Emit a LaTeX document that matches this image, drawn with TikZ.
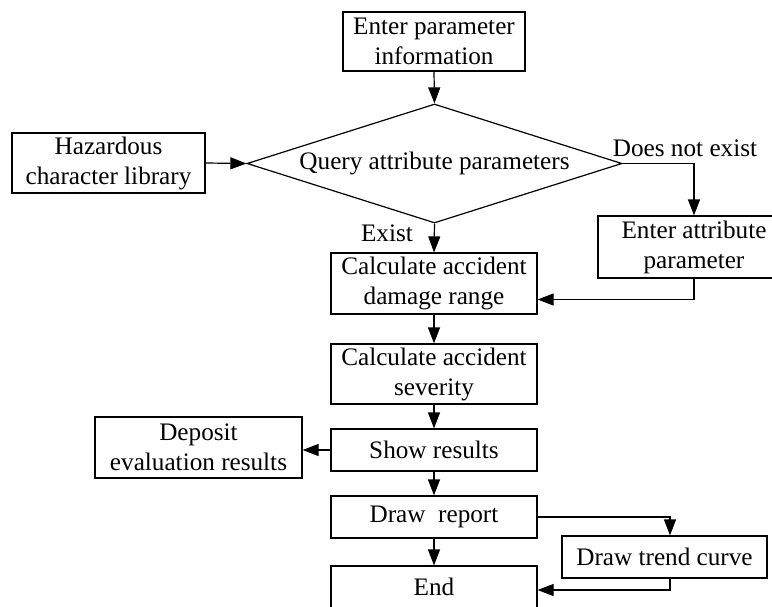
\documentclass[tikz,border=0pt]{standalone}
\usepackage{fontspec}
\setmainfont{Liberation Serif}
\usetikzlibrary{arrows.meta,shapes.geometric}

\begin{document}
\begin{tikzpicture}[x=0.5pt,y=-0.5pt,
	txt/.style={font=\fontsize{12.6}{15}\selectfont},
	box/.style={txt,draw,line width=0.6pt,align=center,inner sep=1pt},
	query/.style={txt,draw,diamond,aspect=3.15,line width=0.6pt,inner sep=0pt,minimum width=187.5pt,minimum height=59.5pt},
	flow/.style={line width=0.6pt,-{Triangle[length=8pt,width=6pt]}}]
	\clip (0,0) rectangle (772,606);
	% Input and query
	\node[box,minimum width=91pt,minimum height=29.5pt] (enter) at (434,41.5) {Enter parameter\\information};
	\node[query] (query) at (434.5,163.5) {Query attribute parameters};
	\node[box,minimum width=96.5pt,minimum height=30pt] (hazard) at (108.5,163) {Hazardous\\character library};
	\node[box,minimum width=96pt,minimum height=31pt] (attr) at (694,247) {Enter attribute\\parameter};
	\node[txt] (notexist) at (685,148) {Does not exist};
	\node[txt] (exist) at (387,233) {Exist};
	% Main column
	\node[box,minimum width=103pt,minimum height=30.5pt] (damage) at (434,283.5) {Calculate accident\\damage range};
	\node[box,minimum width=103pt,minimum height=30pt] (severity) at (434,374) {Calculate accident\\severity};
	\node[box,minimum width=103pt,minimum height=21pt] (show) at (434,450) {Show results};
	\node[box,minimum width=103.5pt,minimum height=30.5pt] (deposit) at (198.5,447.5) {Deposit\\evaluation results};
	\node[box,minimum width=103pt,minimum height=21pt] (report) at (434,517) {Draw\ \ report};
	\node[box,minimum width=103pt,minimum height=21pt] (end) at (434,587) {End};
	\node[box,minimum width=102.5pt,minimum height=21pt] (trend) at (664.5,557) {Draw trend curve};
	% Connectors
	\draw[flow] (enter.south) -- (query.north);
	\draw[flow] (hazard.east) -- (query.west);
	\draw[flow] (query.east) -| (attr.north);
	\draw[flow] (query.south) -- (damage.north);
	\draw[flow] (attr.south) |- ([yshift=-8pt]damage.east);
	\draw[flow] (damage.south) -- (severity.north);
	\draw[flow] (severity.south) -- (show.north);
	\draw[flow] (show.west) -- (show.west -| deposit.east);
	\draw[flow] (show.south) -- (report.north);
	\draw[flow] (report.south) -- (end.north);
	\draw[flow] (report.east) -| ([xshift=2.75pt]trend.north);
	\draw[flow] ([xshift=2.75pt]trend.south) |- ([yshift=-1.5pt]end.east);
\end{tikzpicture}
\end{document}
